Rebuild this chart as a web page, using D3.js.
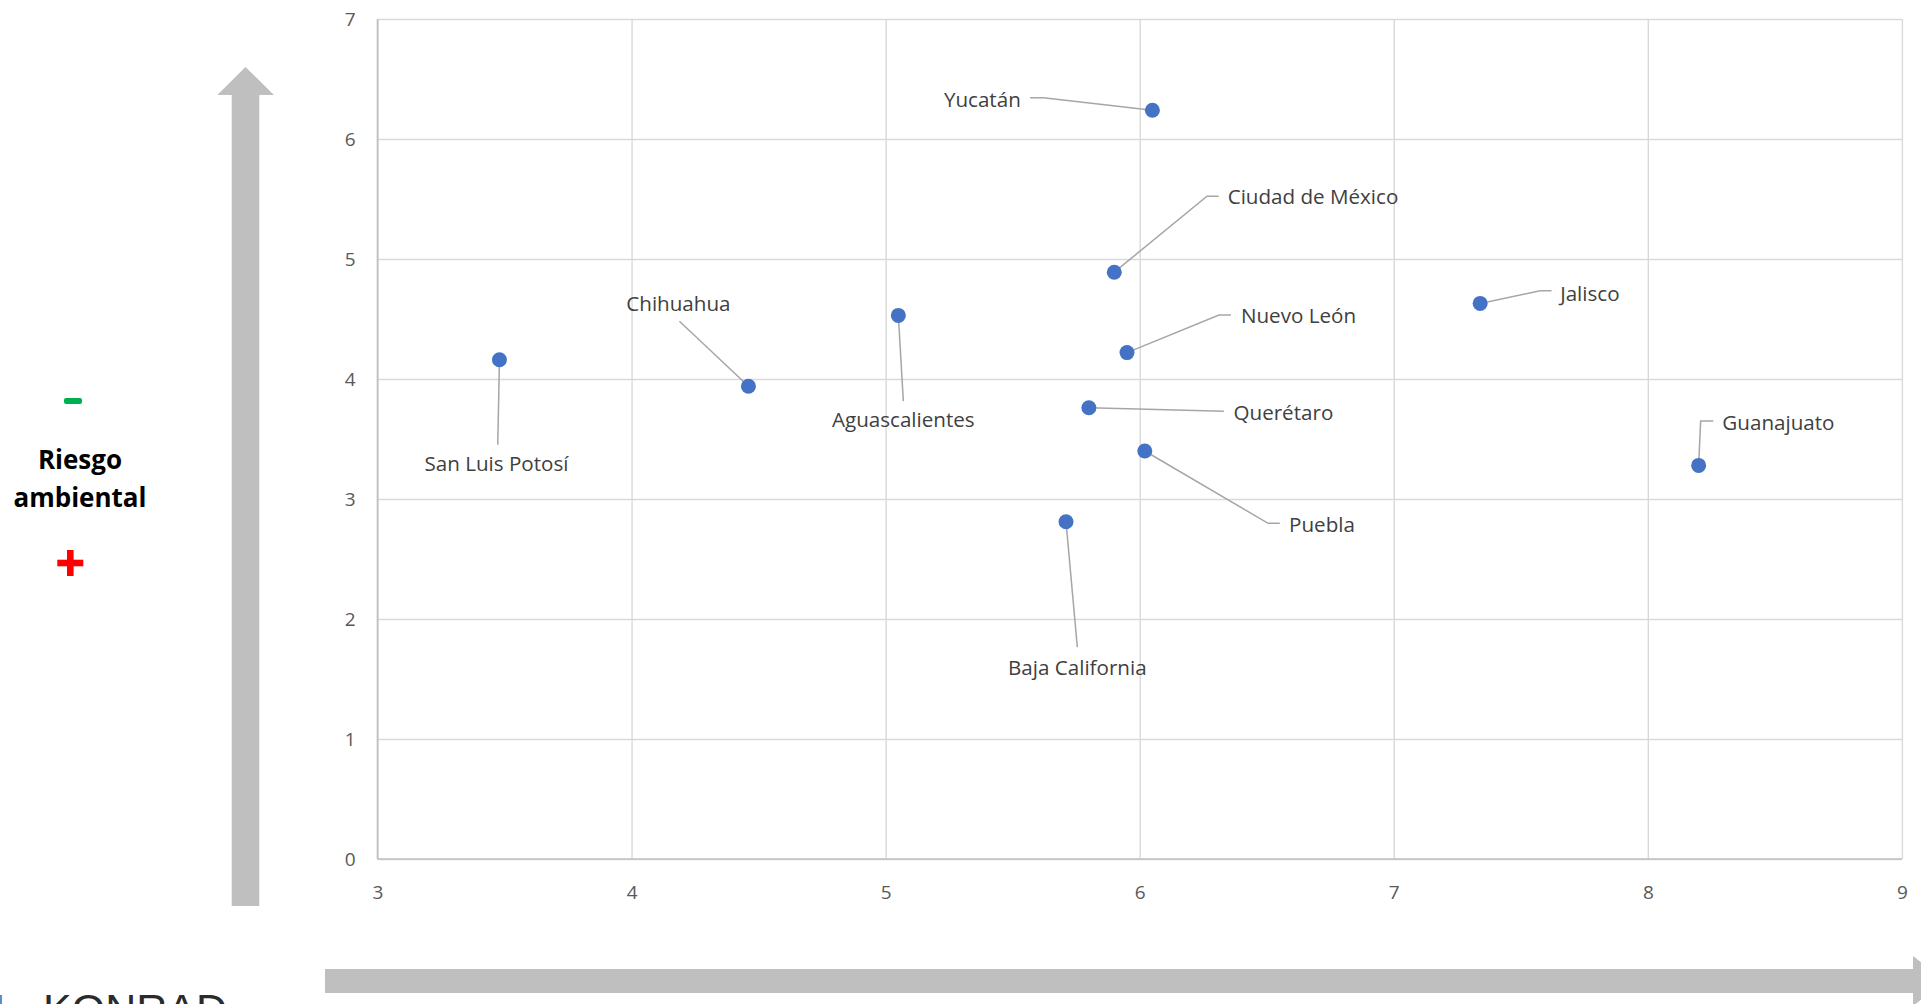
<!DOCTYPE html>
<html>
<head>
<meta charset="utf-8">
<script src="https://cdn.jsdelivr.net/npm/d3@7"></script>
<style>
  html, body { margin: 0; padding: 0; background: #ffffff; overflow: hidden; }
  svg { display: block; }
</style>
</head>
<body>
<svg id="chart" width="1921" height="1004"></svg>
<script>
// ---------------- DATA ----------------
const states = ["San Luis Potosí", "Chihuahua", "Aguascalientes", "Yucatán", "Ciudad de México",
                "Nuevo León", "Querétaro", "Puebla", "Baja California", "Jalisco", "Guanajuato"];
const xValues = [3.48, 4.46, 5.05, 6.05, 5.90, 5.95, 5.80, 6.02, 5.71, 7.34, 8.20];
const yValues = [4.16, 3.94, 4.53, 6.24, 4.89, 4.22, 3.76, 3.40, 2.81, 4.63, 3.28];
const xTicks = [3, 4, 5, 6, 7, 8, 9];
const yTicks = [0, 1, 2, 3, 4, 5, 6, 7];
const sideTitle = ["Riesgo", "ambiental"];

// -------------- LAYOUT (label placement, in px relative to each point) --------------
const labelLayout = {
  "San Luis Potosí":  { tx: -3,    ty: 104,   anchor: "middle", end: [-1.7, 85] },
  "Chihuahua":        { tx: -70,   ty: -82.7, anchor: "middle", end: [-69, -65] },
  "Aguascalientes":   { tx: 5,     ty: 104,   anchor: "middle", end: [5, 85.7] },
  "Yucatán":          { tx: -131.6,ty: -10.7, anchor: "end",    elbow: [-109, -12.4], end: [-122.3, -12.4] },
  "Ciudad de México": { tx: 113.4, ty: -76,   anchor: "start",  elbow: [92.7, -76], end: [104.4, -76] },
  "Nuevo León":       { tx: 114,   ty: -36.8, anchor: "start",  elbow: [92, -37.5], end: [104, -37.5] },
  "Querétaro":        { tx: 144.6, ty: 5,     anchor: "start",  end: [135, 3.4] },
  "Puebla":           { tx: 144.3, ty: 74,    anchor: "start",  elbow: [123.3, 72.3], end: [135, 72.3] },
  "Baja California":  { tx: 11.3,  ty: 146,   anchor: "middle", end: [11.3, 125.3] },
  "Jalisco":          { tx: 80,    ty: -10,   anchor: "start",  elbow: [60, -12.6], end: [71.4, -12.6] },
  "Guanajuato":       { tx: 23.7,  ty: -42.7, anchor: "start",  elbow: [2, -44.3], end: [14.7, -44.3] }
};

// ---------------- CHART ----------------
const svg = d3.select("#chart");
const plot = { left: 377.5, right: 1901.9, top: 19, bottom: 859 };

const x = d3.scaleLinear().domain([3, 9]).range([plot.left, plot.right]);
const y = d3.scaleLinear().domain([0, 7]).range([plot.bottom, plot.top]);

const gridColor = "#d9d9d9";
const axisColor = "#bfbfbf";
const tickFont = "'Open Sans', 'Noto Sans', sans-serif";

// gridlines
const gx = svg.append("g")
  .attr("transform", `translate(0,${plot.bottom})`)
  .call(d3.axisBottom(x).tickValues(xTicks).tickSize(-(plot.bottom - plot.top)).tickFormat(""));
gx.select(".domain").remove();
gx.selectAll(".tick line").attr("stroke", gridColor).attr("stroke-width", 1.4);

const gy = svg.append("g")
  .attr("transform", `translate(${plot.left},0)`)
  .call(d3.axisLeft(y).tickValues(yTicks).tickSize(-(plot.right - plot.left)).tickFormat(""));
gy.select(".domain").remove();
gy.selectAll(".tick line").attr("stroke", gridColor).attr("stroke-width", 1.4);

// axis lines
svg.append("line").attr("x1", plot.left).attr("x2", plot.right)
  .attr("y1", y(0)).attr("y2", y(0)).attr("stroke", axisColor).attr("stroke-width", 1.6);
svg.append("line").attr("x1", x(3)).attr("x2", x(3))
  .attr("y1", plot.top).attr("y2", plot.bottom).attr("stroke", axisColor).attr("stroke-width", 1.6);

// tick labels
const xAxis = svg.append("g")
  .attr("transform", `translate(0,${plot.bottom + 22})`)
  .call(d3.axisBottom(x).tickValues(xTicks).tickSize(0).tickPadding(0).tickFormat(d3.format("d")));
xAxis.select(".domain").remove();
xAxis.selectAll("text")
  .attr("fill", "#595959").attr("font-family", tickFont).attr("font-size", 19)
  .attr("dy", "0.35em").attr("y", 11);

const yAxis = svg.append("g")
  .attr("transform", `translate(${plot.left - 22},0)`)
  .call(d3.axisLeft(y).tickValues(yTicks).tickSize(0).tickPadding(0).tickFormat(d3.format("d")));
yAxis.select(".domain").remove();
yAxis.selectAll("text")
  .attr("fill", "#595959").attr("font-family", tickFont).attr("font-size", 19)
  .attr("dy", "0.35em");

// data
const data = states.map((s, i) => ({ name: s, x: xValues[i], y: yValues[i] }));

// leader lines
svg.append("g").selectAll("path").data(data).join("path")
  .attr("fill", "none").attr("stroke", "#a6a6a6").attr("stroke-width", 1.5)
  .attr("d", d => {
    const L = labelLayout[d.name];
    const px = x(d.x), py = y(d.y);
    const pts = [[px, py]];
    if (L.elbow) pts.push([px + L.elbow[0], py + L.elbow[1]]);
    pts.push([px + L.end[0], py + L.end[1]]);
    return d3.line()(pts);
  });

// points
svg.append("g").selectAll("circle").data(data).join("circle")
  .attr("cx", d => x(d.x)).attr("cy", d => y(d.y)).attr("r", 7.5)
  .attr("fill", "#4472c4");

// labels
svg.append("g").selectAll("text").data(data).join("text")
  .attr("x", d => x(d.x) + labelLayout[d.name].tx)
  .attr("y", d => y(d.y) + labelLayout[d.name].ty)
  .attr("text-anchor", d => labelLayout[d.name].anchor)
  .attr("dy", "0.36em")
  .attr("fill", "#404040")
  .attr("font-family", tickFont)
  .attr("font-size", 20.6)
  .text(d => d.name);

// ---------------- DECORATIONS ----------------
const arrowColor = "#bfbfbf";
svg.append("path")
  .attr("fill", arrowColor)
  .attr("d", "M231.7,906 L231.7,95 L217.3,95 L245.5,67 L274,95 L259.3,95 L259.3,906 Z");
svg.append("path")
  .attr("fill", arrowColor)
  .attr("d", "M325,969 L1913,969 L1913,956 L1945,981 L1913,1006 L1913,993 L325,993 Z");

// side title
svg.append("rect").attr("x", 64).attr("y", 398).attr("width", 18).attr("height", 6)
  .attr("rx", 2).attr("fill", "#00b050");
svg.append("rect").attr("x", 57.3).attr("y", 559.7).attr("width", 26).attr("height", 6.6)
  .attr("fill", "#ff0000");
svg.append("rect").attr("x", 67).attr("y", 550).attr("width", 6.6).attr("height", 26)
  .attr("fill", "#ff0000");

svg.append("g").selectAll("text").data(sideTitle).join("text")
  .attr("x", 80).attr("y", (d, i) => 460 + i * 38)
  .attr("dy", "0.35em")
  .attr("text-anchor", "middle")
  .attr("font-family", "'Open Sans', 'Noto Sans', sans-serif")
  .attr("font-weight", 700)
  .attr("font-size", 26)
  .attr("fill", "#000000")
  .text(d => d);

// logo (cut off at the bottom edge, as in the reference)
svg.append("rect").attr("x", 0).attr("y", 995).attr("width", 2).attr("height", 9).attr("fill", "#5b8bd0");
svg.append("text")
  .attr("x", 43).attr("y", 1024)
  .attr("font-family", "'Liberation Sans', Arial, sans-serif")
  .attr("font-size", 43)
  .attr("fill", "#2b2b2b")
  .text("KONRAD");
</script>
</body>
</html>
